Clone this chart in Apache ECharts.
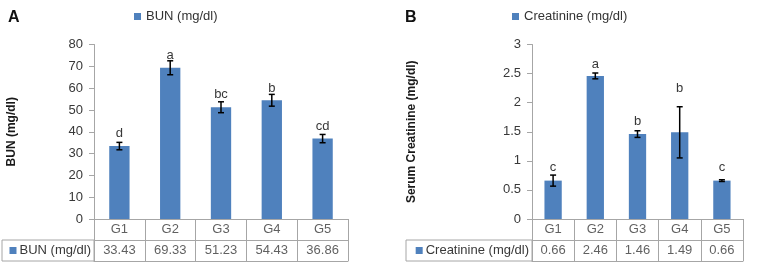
<!DOCTYPE html>
<html>
<head>
<meta charset="utf-8">
<script src="https://cdn.jsdelivr.net/npm/echarts@6/dist/echarts.min.js"></script>
<style>
  html, body { margin: 0; padding: 0; background: #fff; }
  #chart { width: 762px; height: 266px; }
</style>
</head>
<body>
<div id="chart"></div>
<script>
// data
const groups = ['G1', 'G2', 'G3', 'G4', 'G5'];

const bunName = 'BUN (mg/dl)';
const bunMean = [33.43, 69.33, 51.23, 54.43, 36.86];
const bunErr = [1.7, 3.2, 2.5, 2.7, 1.9];
const bunLetters = ['d', 'a', 'bc', 'b', 'cd'];
const bunLetterAt = [37.8, 73.3, 55.4, 58.4, 40.8];

const creaName = 'Creatinine (mg/dl)';
const creaMean = [0.66, 2.46, 1.46, 1.49, 0.66];
const creaErr = [0.095, 0.05, 0.057, 0.44, 0.015];
const creaLetters = ['c', 'a', 'b', 'b', 'c'];
const creaLetterAt = [0.83, 2.60, 1.61, 2.18, 0.83];

const blue = '#4f81bd';
const axisGray = '#a6a6a6';
const textGray = '#383838';
const font = 'Liberation Sans, Arial, sans-serif';

// panel layout (px)
const panels = [
  { left: 94, width: 254, boxLeft: 2, title: 'A', titleX: 8, legendX: 134, yName: 'BUN (mg/dl)', nameGap: 76, max: 80, interval: 10, barWidth: '40%' },
  { left: 532, width: 211, boxLeft: 406, title: 'B', titleX: 405, legendX: 512, yName: 'Serum Creatinine (mg/dl)', nameGap: 114, max: 3, interval: 0.5, barWidth: '41%' }
];
const plotTop = 44.5, plotH = 174.5, tableTop = 219, tableH = 42;

const chart = echarts.init(document.getElementById('chart'));

function errorSeries(name, mean, err, letters, letterAt, axisIdx) {
  return {
    type: 'custom',
    name: name + ' err',
    xAxisIndex: axisIdx, yAxisIndex: axisIdx,
    z: 5,
    data: mean.map((m, i) => [i, m, err[i], letterAt[i]]),
    renderItem: (params, api) => {
      const i = api.value(0), m = api.value(1), e = api.value(2);
      const top = api.coord([i, m + e]);
      const bot = api.coord([i, m - e]);
      const lab = api.coord([i, api.value(3)]);
      const cap = 3;
      const st = { stroke: '#000', lineWidth: 1.5 };
      return {
        type: 'group',
        children: [
          { type: 'line', shape: { x1: top[0], y1: top[1], x2: bot[0], y2: bot[1] }, style: st },
          { type: 'line', shape: { x1: top[0] - cap, y1: top[1], x2: top[0] + cap, y2: top[1] }, style: st },
          { type: 'line', shape: { x1: bot[0] - cap, y1: bot[1], x2: bot[0] + cap, y2: bot[1] }, style: st },
          { type: 'text', x: lab[0], y: lab[1] + 3, style: {
              text: letters[params.dataIndex], fill: textGray, font: '13px ' + font,
              textAlign: 'center', textVerticalAlign: 'bottom' } }
        ]
      };
    }
  };
}

function tableSeries(mean, axisIdx) {
  const cells = [];
  groups.forEach((g, i) => {
    cells.push({ value: [i, 1], label: { formatter: g } });
    cells.push({ value: [i, 0], label: { formatter: mean[i].toFixed(2) } });
  });
  return {
    type: 'scatter',
    xAxisIndex: axisIdx, yAxisIndex: axisIdx,
    symbolSize: 0,
    silent: true,
    data: cells,
    label: { show: true, position: 'inside', color: textGray, fontSize: 13, fontFamily: font }
  };
}

const grids = [], xAxes = [], yAxes = [], series = [], titles = [], legends = [], graphics = [];
const names = [bunName, creaName];
const means = [bunMean, creaMean];

panels.forEach((p, k) => {
  const gMain = k * 2, gTab = k * 2 + 1;
  grids.push({ left: p.left, top: plotTop, width: p.width, height: plotH });
  grids.push({ left: p.left, top: tableTop, width: p.width, height: tableH });

  xAxes.push({
    type: 'category', gridIndex: gMain, data: groups,
    axisLine: { lineStyle: { color: axisGray } },
    axisTick: { show: false }, axisLabel: { show: false }
  });
  xAxes.push({
    type: 'category', gridIndex: gTab, data: groups,
    axisLine: { lineStyle: { color: axisGray } },
    axisTick: { show: false }, axisLabel: { show: false },
    splitLine: { show: true, lineStyle: { color: axisGray } }
  });

  yAxes.push({
    type: 'value', gridIndex: gMain, min: 0, max: p.max, interval: p.interval,
    name: p.yName, nameLocation: 'middle', nameGap: p.nameGap,
    nameTextStyle: { fontSize: 12, fontWeight: 'bold', color: '#1a1a1a', fontFamily: font },
    axisLine: { show: true, lineStyle: { color: axisGray } },
    axisTick: { show: true, length: 5, lineStyle: { color: axisGray } },
    axisLabel: { margin: 11, color: textGray, fontSize: 13, fontFamily: font },
    splitLine: { show: false }
  });
  yAxes.push({
    type: 'category', gridIndex: gTab, data: ['v', 'h'],
    axisLine: { show: true, lineStyle: { color: axisGray } },
    axisTick: { show: false },
    splitLine: { show: true, lineStyle: { color: axisGray } },
    axisLabel: {
      margin: 3,
      formatter: v => v === 'v' ? '{sq| }{t|' + names[k] + '}' : '',
      rich: {
        sq: { width: 7, height: 7, backgroundColor: blue },
        t: { color: textGray, fontSize: 13, fontFamily: font, padding: [0, 0, 0, 3] }
      }
    }
  });

  series.push({
    type: 'bar', name: names[k], xAxisIndex: gMain, yAxisIndex: gMain,
    data: means[k], barWidth: p.barWidth, itemStyle: { color: blue }
  });
  series.push(tableSeries(means[k], gTab));

  titles.push({ text: p.title, left: p.titleX, top: 10, padding: 0,
    textStyle: { fontSize: 16, fontWeight: 'bold', color: '#111', fontFamily: font } });
  legends.push({ data: [names[k]], left: p.legendX, top: 10, padding: 0,
    icon: 'rect', itemWidth: 7, itemHeight: 7, selectedMode: false,
    textStyle: { fontSize: 13, color: '#333', fontFamily: font } });

  // left label cell of the value row
  graphics.push({ type: 'rect', silent: true,
    shape: { x: p.boxLeft, y: tableTop + tableH / 2, width: p.left - p.boxLeft, height: tableH / 2 },
    style: { fill: 'none', stroke: axisGray, lineWidth: 1 } });
});

series.push(errorSeries(bunName, bunMean, bunErr, bunLetters, bunLetterAt, 0));
series.push(errorSeries(creaName, creaMean, creaErr, creaLetters, creaLetterAt, 2));

chart.setOption({
  animation: false,
  title: titles,
  legend: legends,
  grid: grids,
  xAxis: xAxes,
  yAxis: yAxes,
  series: series,
  graphic: graphics
});
</script>
</body>
</html>
